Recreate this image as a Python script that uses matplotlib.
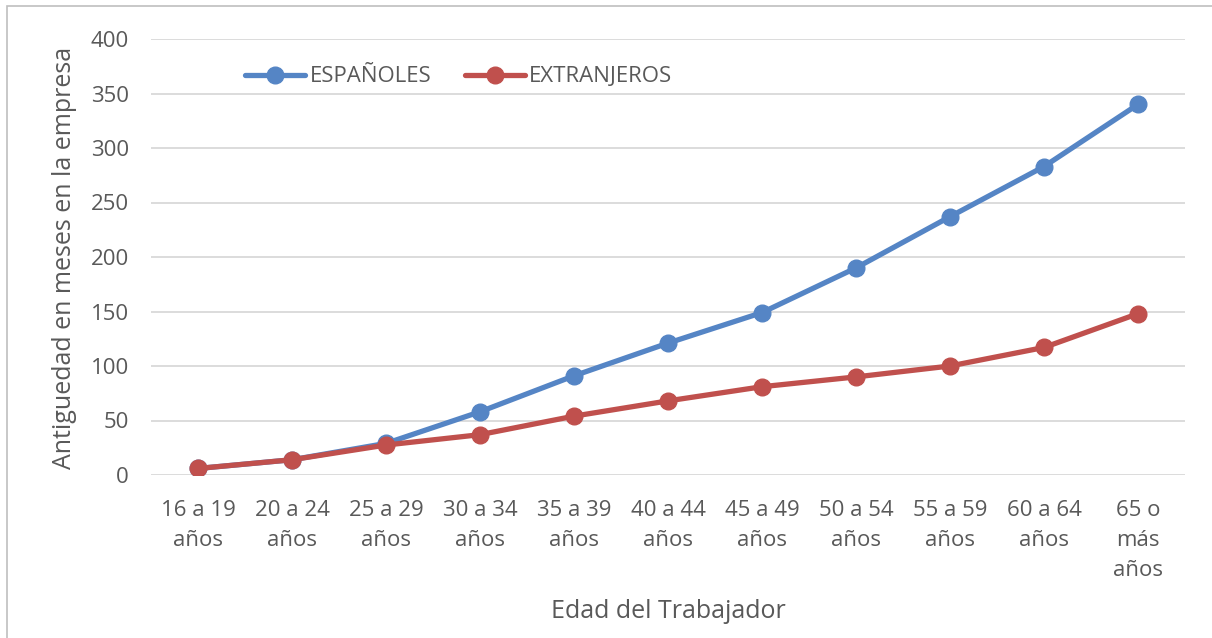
import matplotlib.pyplot as plt
from matplotlib.patches import Rectangle

# Datos del grafico
categorias = ["16 a 19\naños", "20 a 24\naños", "25 a 29\naños", "30 a 34\naños",
              "35 a 39\naños", "40 a 44\naños", "45 a 49\naños", "50 a 54\naños",
              "55 a 59\naños", "60 a 64\naños", "65 o\nmás\naños"]
espanoles = [6, 14, 29, 58, 91, 121, 149, 190, 237, 283, 340]
extranjeros = [6, 14, 27.5, 37, 54, 68, 81, 90, 100, 117, 148]
y_ticks = [0, 50, 100, 150, 200, 250, 300, 350, 400]

AZUL = "#5585C5"
ROJO = "#C0504D"
TEXTO = "#595959"

plt.rcParams['font.family'] = ['Open Sans', 'DejaVu Sans']

W, H = 1212, 638
fig = plt.figure(figsize=(W / 100, H / 100), dpi=100)
ax = fig.add_axes([151 / W, 1 - 475 / H, (1185 - 151) / W, (475 - 39) / H])

x = list(range(len(categorias)))
ax.plot(x, espanoles, color=AZUL, lw=3.8, marker='o', ms=12, label="ESPAÑOLES",
        solid_capstyle='round', zorder=3)
ax.plot(x, extranjeros, color=ROJO, lw=3.8, marker='o', ms=12, label="EXTRANJEROS",
        solid_capstyle='round', zorder=4)

ax.set_xlim(-0.5, len(categorias) - 0.5)
ax.set_ylim(0, 400)
ax.set_yticks(y_ticks)
ax.set_xticks(x)
ax.set_xticklabels(categorias, linespacing=1.55, va='top')
ax.tick_params(axis='both', length=0, labelsize=16, colors=TEXTO)
ax.tick_params(axis='x', pad=18)
ax.tick_params(axis='y', pad=16)

ax.grid(axis='y', color='#D9D9D9', lw=1.3)
ax.set_axisbelow(True)
for s in ax.spines.values():
    s.set_visible(False)

ax.set_ylabel("Antiguedad en meses en la empresa", fontsize=18, color=TEXTO)
ax.yaxis.set_label_coords(77 / W, 1 - 258 / H, transform=fig.transFigure)
fig.text(668 / W, 1 - 612 / H, "Edad del Trabajador", fontsize=18, color=TEXTO,
         ha='center', va='center')

leg = fig.legend(loc='center left', bbox_to_anchor=(245 / W, 1 - 77 / H), ncol=2,
                 frameon=False, fontsize=16, handlelength=2.7, columnspacing=1.5,
                 handletextpad=0.2, borderpad=0, borderaxespad=0, labelcolor=TEXTO)

fig.patches.append(Rectangle((7 / W, -0.1), 1.2, 1 - 6 / H + 0.1, transform=fig.transFigure,
                             fill=False, edgecolor='#BFBFBF', lw=1.2))

fig.savefig("out.png", dpi=100)
